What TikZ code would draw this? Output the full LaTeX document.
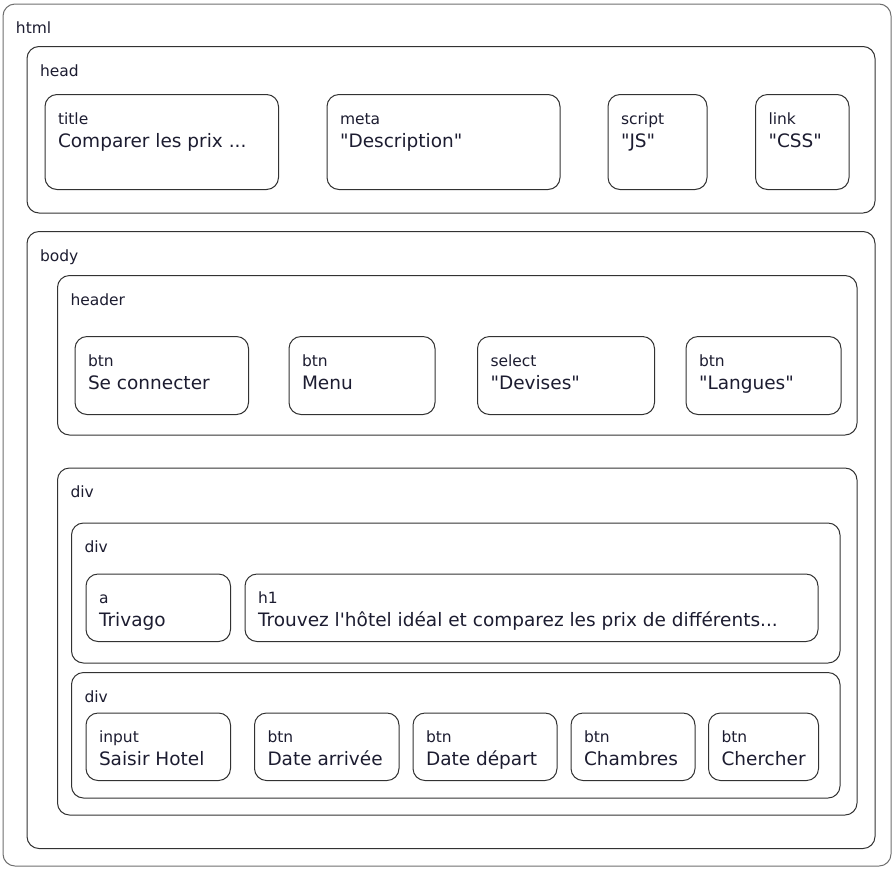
\documentclass[tikz,border=0pt]{standalone}
\usepackage{fontspec}
\setmainfont{DejaVu Sans}
\definecolor{txt}{RGB}{28,28,48}
\definecolor{edge}{RGB}{50,50,50}
\definecolor{outeredge}{RGB}{110,110,110}
\newcommand{\dq}{\XeTeXglyph\XeTeXcharglyph"22\relax}
\newcommand{\sq}{\XeTeXglyph\XeTeXcharglyph"27\relax}
\tikzset{
  box/.style={draw=edge, line width=1pt, rounded corners=12pt, inner sep=0pt, outer sep=0pt, anchor=north west},
  tagname/.style={anchor=base west, inner sep=0pt, outer sep=0pt, text=txt, font=\fontsize{15.5}{18}\selectfont},
  tagtext/.style={anchor=base west, inner sep=0pt, outer sep=0pt, text=txt, font=\fontsize{18.5}{22}\selectfont},
}
% container box: name, x1, y1, x2, y2, label
\newcommand{\contbox}[7][]{%
  \node[box, #1, minimum width={#5pt-#3pt}, minimum height={#6pt-#4pt}] (#2) at (#3,#4) {};
  \node[tagname] (#2-lbl) at ([shift={(13pt,-29.5pt)}]#2.north west) {#7};
}
% leaf box: name, x1, y1, x2, y2, label, text
\newcommand{\leafbox}[7]{%
  \node[box, minimum width={#4pt-#2pt}, minimum height={#5pt-#3pt}] (#1) at (#2,#3) {};
  \node[tagname] (#1-lbl) at ([shift={(13pt,-29.5pt)}]#1.north west) {#6};
  \node[tagtext] (#1-txt) at ([shift={(13pt,-52.5pt)}]#1.north west) {#7};
}
\begin{document}
\begin{tikzpicture}[x=1pt, y=-1pt]
\useasboundingbox (0,0) rectangle (896,871);
% html
\contbox[draw=outeredge]{html}{3}{4}{891}{866}{html}
% head
\contbox{head}{27}{46.5}{875}{213}{head}
\leafbox{title}{45}{94.5}{278.5}{189.5}{title}{Comparer les prix ...}
\leafbox{meta}{327}{94.5}{560}{189.5}{meta}{\dq Description\dq}
\leafbox{script}{608}{94.5}{707}{189.5}{script}{\dq JS\dq}
\leafbox{link}{755.5}{94.5}{849}{189.5}{link}{\dq CSS\dq}
% body
\contbox{body}{27}{231.5}{875}{848.5}{body}
\contbox{header}{57.5}{275.5}{857}{435}{header}
\leafbox{btn1}{75}{336.5}{248.5}{414.5}{btn}{Se connecter}
\leafbox{btn2}{289}{336.5}{435}{414.5}{btn}{Menu}
\leafbox{sel}{477.5}{336.5}{654.5}{414.5}{select}{\dq Devises\dq}
\leafbox{btn3}{686}{336.5}{841}{414.5}{btn}{\dq Langues\dq}
% div
\contbox{divA}{57.5}{468}{857}{815}{div}
\contbox{divB}{71.5}{523}{840}{663}{div}
\leafbox{lnk}{86}{574}{230.5}{641.5}{a}{Trivago}
\leafbox{hone}{245}{574}{818}{641.5}{h1}{Trouvez l\sq hôtel idéal et comparez les prix de différents...}
\contbox{divC}{71.5}{672.5}{840}{798}{div}
\leafbox{inp}{86}{713}{230.5}{780.5}{input}{Saisir Hotel}
\leafbox{btn4}{254.5}{713}{399}{780.5}{btn}{Date arrivée}
\leafbox{btn5}{413}{713}{557}{780.5}{btn}{Date départ}
\leafbox{btn6}{571}{713}{695}{780.5}{btn}{Chambres}
\leafbox{btn7}{708.5}{713}{818.5}{780.5}{btn}{Chercher}
\end{tikzpicture}
\end{document}
